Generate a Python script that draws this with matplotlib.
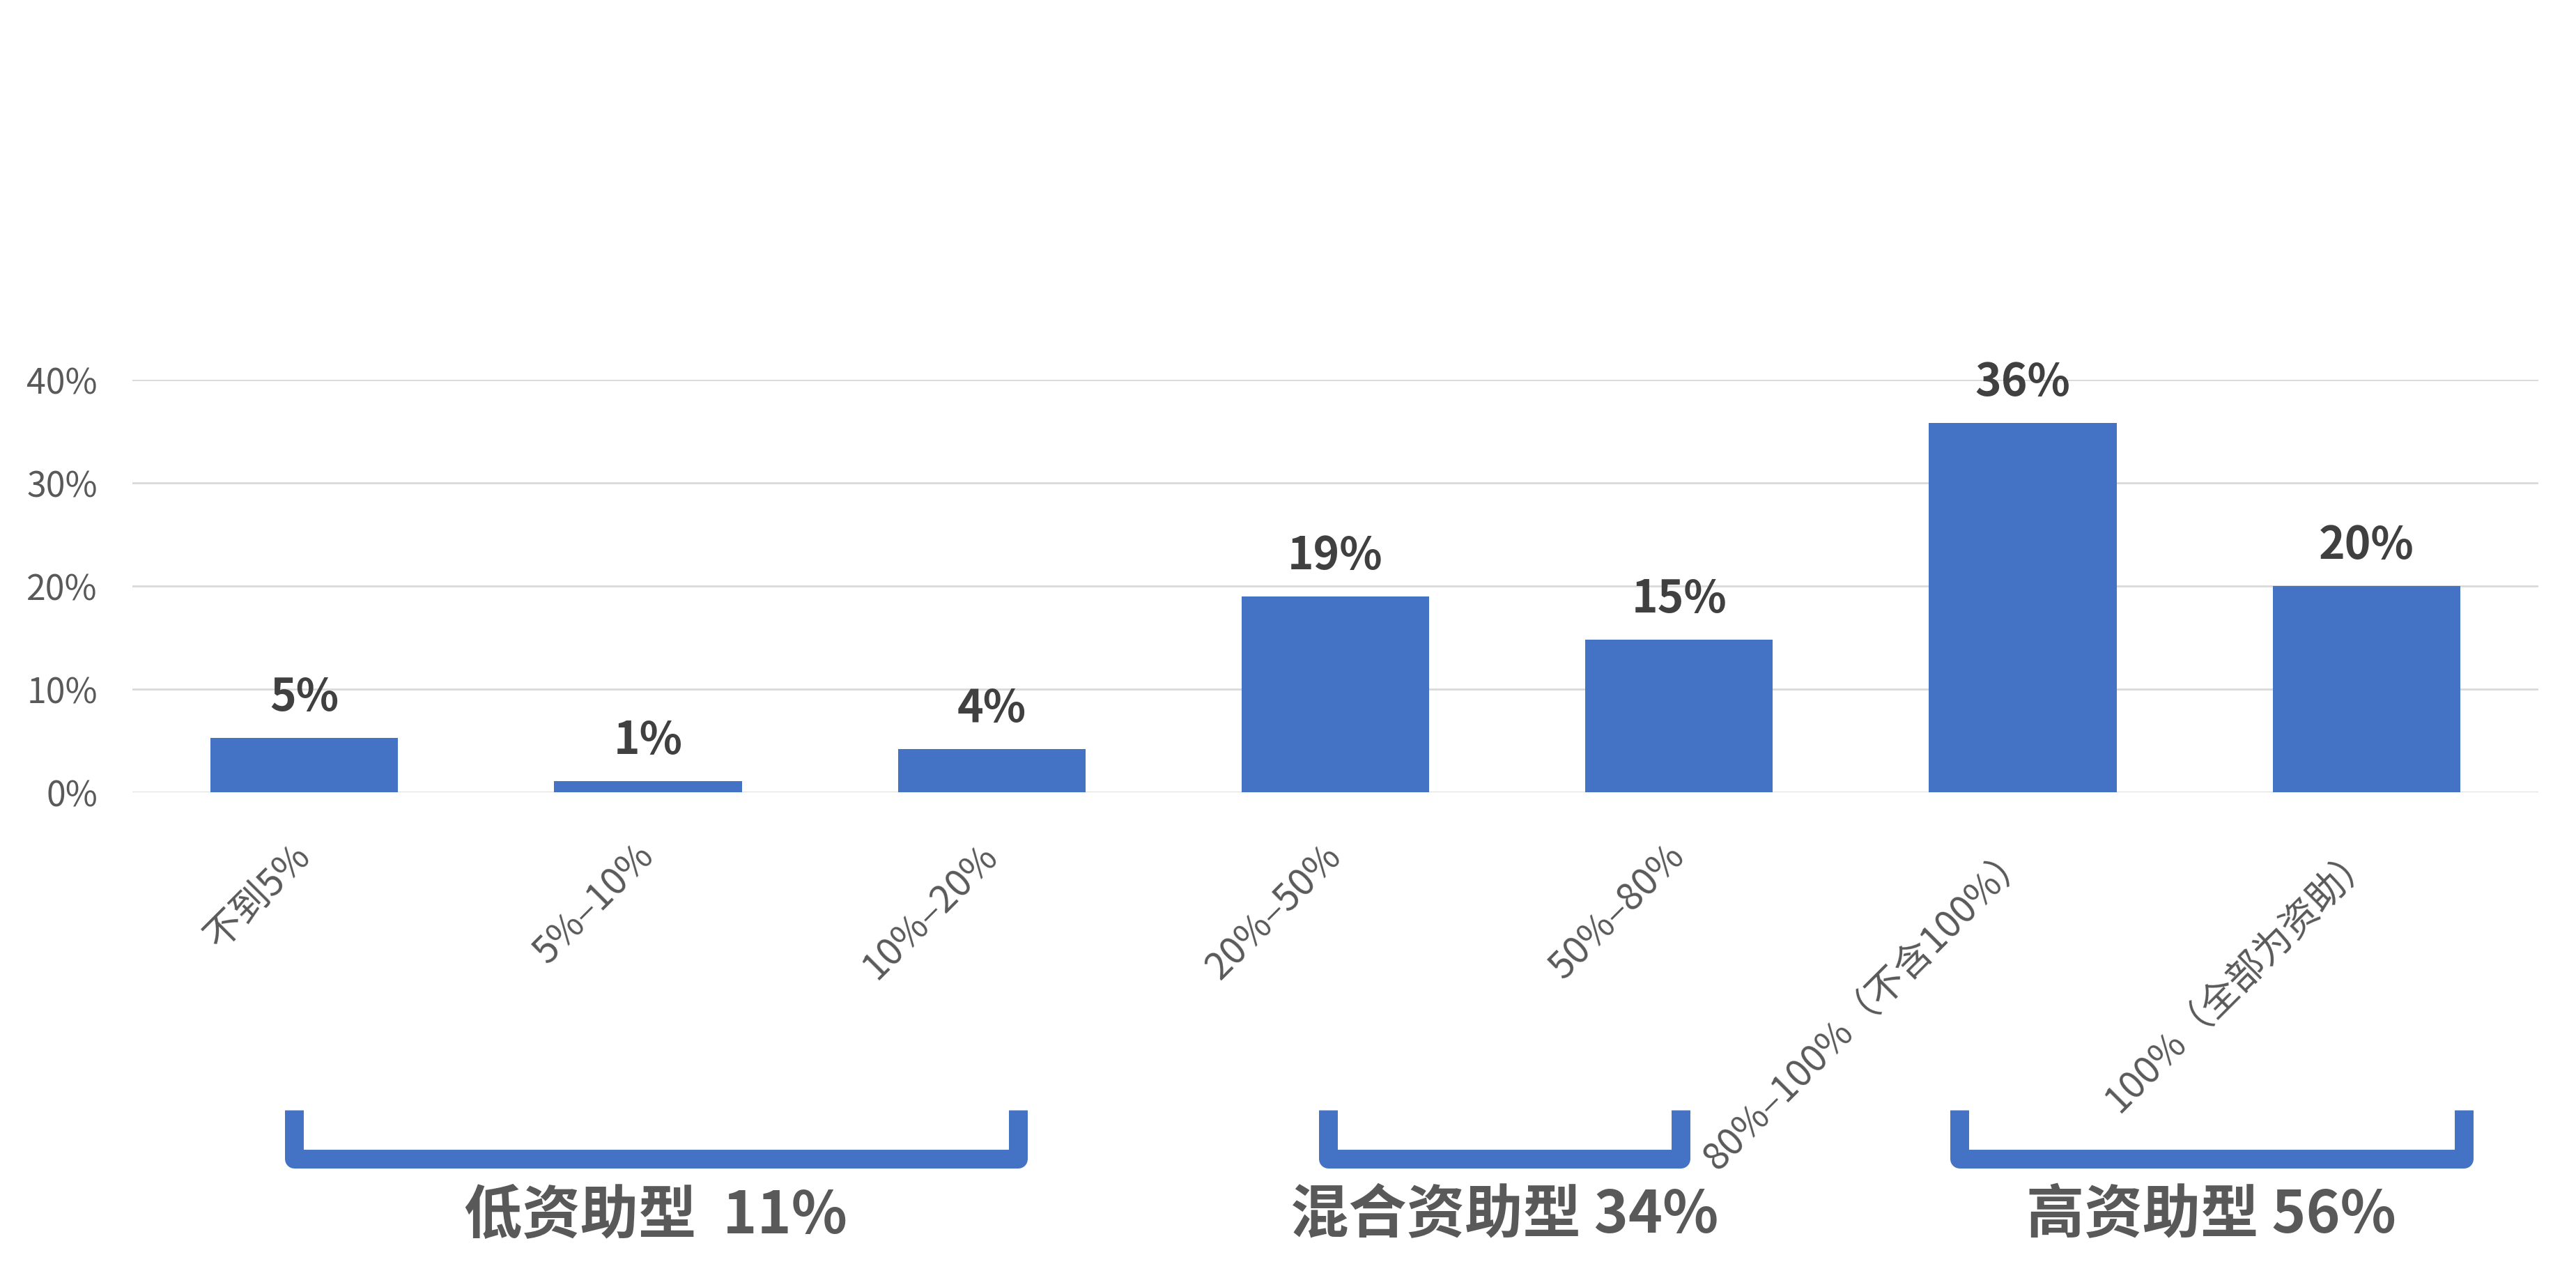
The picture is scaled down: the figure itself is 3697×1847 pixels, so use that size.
import matplotlib
matplotlib.use("Agg")
import matplotlib.pyplot as plt
import matplotlib.transforms as mtransforms
import numpy as np

plt.rcParams['font.family'] = ['Noto Sans CJK SC', 'DejaVu Sans']

# data
categories = ["不到5%", "5%–10%", "10%–20%", "20%–50%", "50%–80%",
              "80%–100%（不含100%）", "100%（全部为资助）"]
shares = [5.3, 1.1, 4.2, 19.0, 14.8, 35.8, 20.0]
bar_labels = ["5%", "1%", "4%", "19%", "15%", "36%", "20%"]
group_labels = ["低资助型  11%", "混合资助型 34%", "高资助型 56%"]
yticks = [0, 10, 20, 30, 40]

# bracket extents in category units (hand drawn in the original)
spans = [(-0.057, 2.103), (2.951, 4.032), (4.787, 6.310)]

blue = "#4472C4"
W, H = 3698, 1847

fig = plt.figure(figsize=(W / 100, H / 100), dpi=100)
ax = fig.add_axes([190 / W, 1 - 1137 / H, (3643 - 190) / W, (1137 - 545) / H])

x = np.arange(len(categories))
ax.bar(x, shares, width=0.546, color=blue, zorder=3)

for xi, v, lab in zip(x, shares, bar_labels):
    ax.annotate(lab, (xi, v), xytext=(0, 28), textcoords="offset points",
                ha="center", va="baseline", fontsize=46, fontweight="bold",
                color="#404040", annotation_clip=False)

ax.set_xlim(-0.5, len(categories) - 0.5)
ax.set_ylim(0, 40)
ax.set_yticks(yticks, [f"{t}%" for t in yticks])
ax.grid(axis="y", color="#D9D9D9", linewidth=2, zorder=0)
ax.set_xticks(x, categories, rotation=45, ha="right", va="center",
              rotation_mode="anchor")
ax.tick_params(axis="x", length=0, pad=60, labelsize=39, labelcolor="#595959")
ax.tick_params(axis="y", length=0, pad=36, labelsize=36, labelcolor="#595959")
for s in ax.spines.values():
    s.set_visible(False)

# brackets under the groups
trans = mtransforms.blended_transform_factory(ax.transData, ax.transAxes)
d = 13.5 / 493
for (x0, x1), lab in zip(spans, group_labels):
    ax.plot([x0 + d, x0 + d, x1 - d, x1 - d], [-0.770, -0.889, -0.889, -0.770],
            transform=trans, color=blue, linewidth=19.4, clip_on=False,
            solid_joinstyle="round", solid_capstyle="butt")
    ax.text((x0 + x1) / 2, -1.027, lab, transform=trans, ha="center",
            va="center", fontsize=60, fontweight="bold", color="#595959")

fig.savefig("out.png", dpi=100)
